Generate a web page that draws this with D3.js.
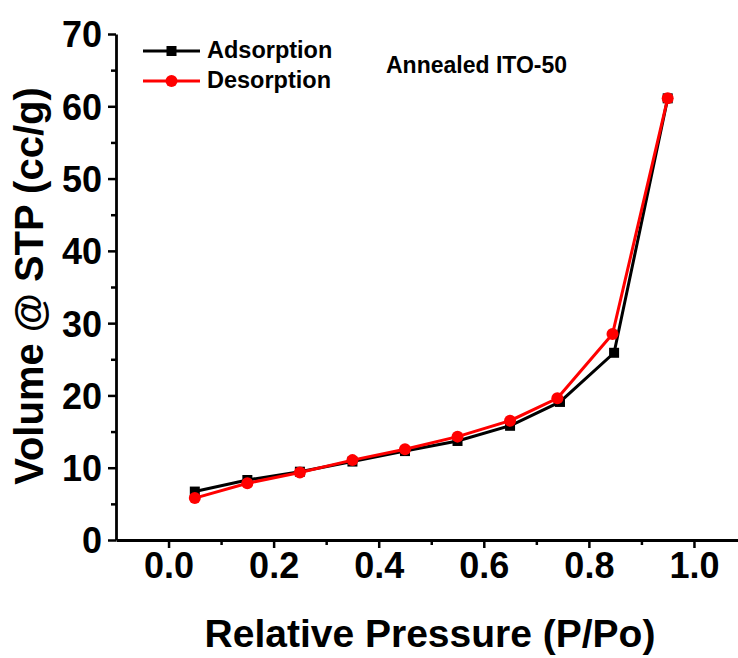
<!DOCTYPE html>
<html>
<head>
<meta charset="utf-8">
<script src="https://cdn.jsdelivr.net/npm/d3@7"></script>
<style>
  html, body { margin: 0; padding: 0; background: #fff; }
  svg { display: block; font-family: Arial, "Liberation Sans", sans-serif; font-weight: bold; }
</style>
</head>
<body>
<svg id="chart" width="738" height="658"></svg>
<script>
// Nitrogen sorption isotherm, annealed ITO-50
const adsP = [0.05, 0.15, 0.25, 0.35, 0.45, 0.55, 0.65, 0.745, 0.848, 0.95];
const adsV = [6.7, 8.3, 9.45, 10.85, 12.3, 13.7, 15.8, 19.1, 25.9, 61.1];
const desP = [0.05, 0.15, 0.25, 0.35, 0.45, 0.55, 0.65, 0.74, 0.845, 0.95];
const desV = [5.8, 7.85, 9.35, 11.05, 12.55, 14.3, 16.5, 19.6, 28.5, 61.1];
const xTicks = [0.0, 0.2, 0.4, 0.6, 0.8, 1.0];
const xMinor = [0.1, 0.3, 0.5, 0.7, 0.9];
const yTicks = [0, 10, 20, 30, 40, 50, 60, 70];
const yMinor = [5, 15, 25, 35, 45, 55, 65];

const svg = d3.select("#chart");
const x = d3.scaleLinear().domain([-0.1, 1.1]).range([116, 746.5]);
const y = d3.scaleLinear().domain([0, 70]).range([540, 34]);

// axes
const xAxis = svg.append("g").attr("transform", `translate(0,${y(0)})`)
  .call(d3.axisBottom(x).tickValues(xTicks).tickFormat(d3.format(".1f")).tickSize(8).tickSizeOuter(0).tickPadding(4));
svg.append("g").attr("transform", `translate(0,${y(0)})`)
  .call(d3.axisBottom(x).tickValues(xMinor).tickFormat("").tickSize(5).tickSizeOuter(0))
  .select(".domain").remove();
const yAxis = svg.append("g").attr("transform", `translate(${x(-0.1)},0)`)
  .call(d3.axisLeft(y).tickValues(yTicks).tickSize(8).tickSizeOuter(0).tickPadding(6));
svg.append("g").attr("transform", `translate(${x(-0.1)},0)`)
  .call(d3.axisLeft(y).tickValues(yMinor).tickFormat("").tickSize(5).tickSizeOuter(0))
  .select(".domain").remove();

svg.selectAll(".domain").attr("stroke", "#000").attr("stroke-width", 2.8);
svg.selectAll(".tick line").attr("stroke", "#000").attr("stroke-width", 2.5);
xAxis.selectAll(".tick text").attr("font-size", 36).attr("font-family", "Arial, 'Liberation Sans', sans-serif")
  .attr("font-weight", "bold").attr("fill", "#000").attr("dy", "0.71em");
yAxis.selectAll(".tick text").attr("font-size", 36).attr("font-family", "Arial, 'Liberation Sans', sans-serif")
  .attr("font-weight", "bold").attr("fill", "#000").attr("dy", "0.36em");

// axis titles
svg.append("text").attr("x", 430).attr("y", 647).attr("text-anchor", "middle")
  .attr("font-size", 39).attr("fill", "#000").text("Relative Pressure (P/Po)");
svg.append("text").attr("transform", `translate(43,${286}) rotate(-90)`).attr("text-anchor", "middle")
  .attr("font-size", 40).attr("fill", "#000").text("Volume @ STP (cc/g)");

// series
const line = d3.line().x(d => x(d[0])).y(d => y(d[1]));
const ads = adsP.map((p, i) => [p, adsV[i]]);
const des = desP.map((p, i) => [p, desV[i]]);

svg.append("path").datum(ads).attr("d", line).attr("fill", "none").attr("stroke", "#000").attr("stroke-width", 3);
svg.selectAll(".sq").data(ads).enter().append("rect")
  .attr("x", d => x(d[0]) - 5).attr("y", d => y(d[1]) - 5).attr("width", 10).attr("height", 10).attr("fill", "#000");

svg.append("path").datum(des).attr("d", line).attr("fill", "none").attr("stroke", "#ff0000").attr("stroke-width", 3);
svg.selectAll(".ci").data(des).enter().append("circle")
  .attr("cx", d => x(d[0])).attr("cy", d => y(d[1])).attr("r", 6).attr("fill", "#ff0000");

// legend
const legend = svg.append("g");
const legItems = [
  { name: "Adsorption", color: "#000", shape: "square", ly: 51 },
  { name: "Desorption", color: "#ff0000", shape: "circle", ly: 81 }
];
legItems.forEach(it => {
  legend.append("line").attr("x1", 143).attr("x2", 200).attr("y1", it.ly).attr("y2", it.ly)
    .attr("stroke", it.color).attr("stroke-width", 3);
  if (it.shape === "square") {
    legend.append("rect").attr("x", 171.5 - 5).attr("y", it.ly - 5).attr("width", 10).attr("height", 10).attr("fill", it.color);
  } else {
    legend.append("circle").attr("cx", 171.5).attr("cy", it.ly).attr("r", 6).attr("fill", it.color);
  }
  legend.append("text").attr("x", 207).attr("y", it.ly + 7).attr("font-size", 23.5).attr("fill", "#000").text(it.name);
});

svg.append("text").attr("x", 386).attr("y", 73).attr("font-size", 23).attr("fill", "#000").text("Annealed ITO-50");
</script>
</body>
</html>
